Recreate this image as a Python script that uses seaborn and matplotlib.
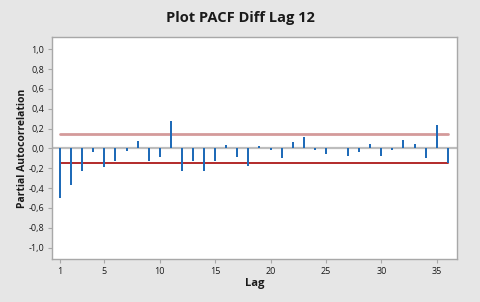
import matplotlib
matplotlib.use("Agg")
import matplotlib.pyplot as plt
import seaborn as sns
import pandas as pd
from matplotlib.ticker import FuncFormatter

lags = list(range(1, 37))
pacf = [-0.50, -0.37, -0.23, -0.04, -0.19, -0.13, -0.03, 0.07, -0.13, -0.09,
        0.28, -0.23, -0.13, -0.23, -0.13, 0.03, -0.09, -0.18, 0.02, -0.02,
        -0.10, 0.06, 0.11, -0.02, -0.06, 0.00, -0.08, -0.04, 0.04, -0.08,
        -0.02, 0.08, 0.04, -0.10, 0.24, -0.15]
upper_limit = 0.15
lower_limit = -0.146
x_ticks = [1, 5, 10, 15, 20, 25, 30, 35]
y_ticks = [-1.0, -0.8, -0.6, -0.4, -0.2, 0.0, 0.2, 0.4, 0.6, 0.8, 1.0]

df = pd.DataFrame({"Lag": lags, "PACF": pacf})

sns.set_theme(style="white")
plt.rcParams['font.family'] = ['Open Sans', 'DejaVu Sans']

fig = plt.figure(figsize=(4.8, 3.02), dpi=100, facecolor="#e6e6e6")
ax = fig.add_axes([52.3 / 480, 1 - 259 / 302, (457 - 52.3) / 480, (259 - 37.3) / 302])
ax.set_facecolor("white")

# zero reference line
ax.axhline(0, color="#bdbdbd", lw=1.6, zorder=1)

sns.barplot(data=df, x="Lag", y="PACF", native_scale=True, width=0.18,
            color="#1f6bb8", saturation=1, edgecolor="none", ax=ax, zorder=3)

sns.lineplot(x=[lags[0], lags[-1]], y=[upper_limit, upper_limit], color="#d49a9a",
             lw=2.0, ax=ax, zorder=2)
sns.lineplot(x=[lags[0], lags[-1]], y=[lower_limit, lower_limit], color="#b22a2a",
             lw=1.4, ax=ax, zorder=2)

ax.set_xlim(0.3, 36.83)
ax.set_ylim(-1.115, 1.12)
ax.set_xticks(x_ticks)
ax.set_yticks(y_ticks)
ax.yaxis.set_major_formatter(FuncFormatter(lambda v, p: f"{v:.1f}".replace(".", ",").replace("-0,0", "0,0")))

for s in ax.spines.values():
    s.set_color("#a8a8a8")
    s.set_linewidth(1.0)

ax.tick_params(axis="both", which="major", direction="out", length=3, width=0.8,
               color="#a8a8a8", labelsize=6.5, labelcolor="#1a1a1a", pad=3,
               left=True, bottom=True)

ax.set_xlabel("Lag", fontsize=8, fontweight="bold", color="#1a1a1a", labelpad=1)
ax.set_ylabel("Partial Autocorrelation", fontsize=7.5, fontweight="bold", color="#1a1a1a", labelpad=0)
fig.suptitle("Plot PACF Diff Lag 12", fontsize=10.5, fontweight="bold", color="#1a1a1a", y=0.962)

fig.savefig("out.png", dpi=100, facecolor=fig.get_facecolor())
